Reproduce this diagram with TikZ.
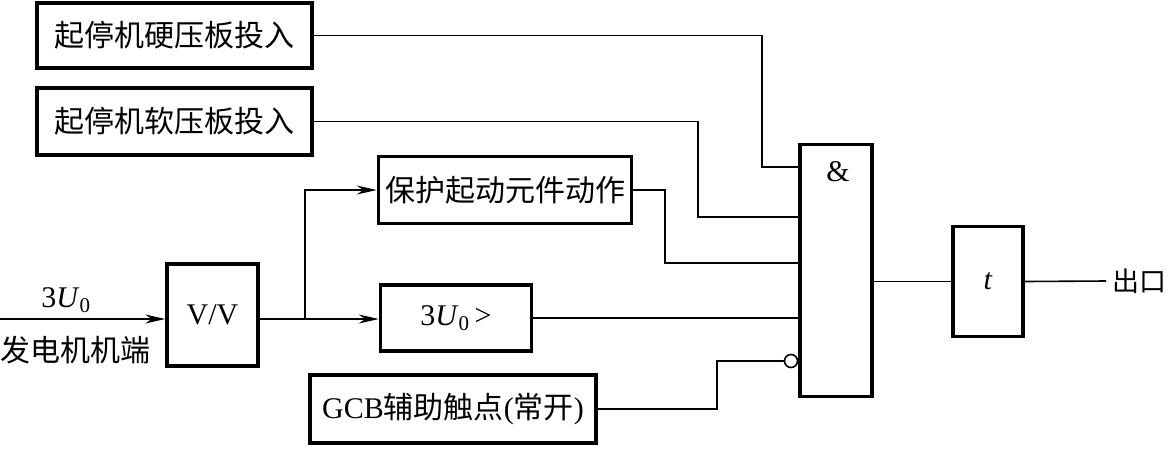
\documentclass[tikz,border=0pt]{standalone}
\usepackage{fontspec}
\setmainfont{Liberation Serif}
\newfontfamily\cjk{Noto Sans CJK SC}
\usetikzlibrary{shapes,arrows,arrows.meta,positioning}
\tikzstyle{blk} = [shape=rectangle, draw, line width=3.5pt,
		anchor=center, align=center, inner sep=0pt]
\tikzstyle{lbl} = [anchor=center, inner sep=2pt]
\tikzstyle{wire} = [line width=1.6pt]
\newcommand{\uz}{\rmfamily 3\textit{U}\textsubscript{0}}

\begin{document}
\begin{tikzpicture}[x=1pt, y=-1pt, font=\fontsize{30}{34}\selectfont\cjk]
	\useasboundingbox (0,0) rectangle (1169,448);
	% input blocks
	\node[blk, minimum width=275pt, minimum height=65pt] (hard) at (174.5,35.5) {起停机硬压板投入};
	\node[blk, minimum width=275pt, minimum height=67pt] (soft) at (174.5,121.5) {起停机软压板投入};
	\node[blk, minimum width=253pt, minimum height=67pt] (prot) at (505,190) {保护起动元件动作};
	\node[blk, minimum width=151pt, minimum height=66pt] (uzero) at (456,318) {\uz\,>};
	\node[blk, minimum width=286pt, minimum height=68pt] (gcb) at (453,409) {\rmfamily GCB\cjk 辅助触点\rmfamily(\cjk 常开\rmfamily)};
	\node[blk, minimum width=91pt, minimum height=102pt] (vv) at (212.5,315) {\rmfamily V/V};
	% logic
	\node[blk, minimum width=72pt, minimum height=252pt] (and) at (836,270.5) {};
	\node[lbl] (amp) at (838,172) {\rmfamily\&};
	\node[blk, minimum width=70pt, minimum height=110pt] (delay) at (988,281.5) {\rmfamily\textit{t}};
	\node[circle, draw, wire, inner sep=0pt, minimum size=13pt] (neg) at (791,361) {};
	% labels
	\node[lbl] (uin) at (66,300) {\uz};
	\node[lbl] (gen) at (75,350) {发电机机端};
	\node[lbl, anchor=west, inner sep=6pt, font=\fontsize{27}{32}\selectfont\cjk] (out) at (1106,281) {出口};
	% elbows
	\coordinate (in) at (0,319);
	\coordinate (br) at (305,319);
	\coordinate (k1) at (762,167);
	\coordinate (k2) at (698,217);
	\coordinate (k3) at (665,263);
	\coordinate (k5) at (717,361);

	\path [wire, >={Stealth[length=20pt,width=9pt]}, ->] (in) edge (in -| vv.west);
	\draw [wire] (vv.east |- br) -- (br);
	\path [wire, >={Stealth[length=20pt,width=9pt]}, ->] (br) edge (br -| uzero.west);
	\draw [wire, >={Stealth[length=20pt,width=9pt]}, ->] (br) |- (prot.west);

	\draw [wire] (hard.east) -| (k1) -- (k1 -| and.west);
	\draw [wire] (soft.east) -| (k2) -- (k2 -| and.west);
	\draw [wire] (prot.east) -| (k3) -- (k3 -| and.west);
	\draw [wire] (uzero.east) -- (uzero.east -| and.west);
	\draw [wire] (gcb.east) -| (k5) -- (neg.west);
	\draw [wire] (and.east |- delay.west) -- (delay.west);
	\draw [wire] (delay.east) -- (out.west);
\end{tikzpicture}
\end{document}
